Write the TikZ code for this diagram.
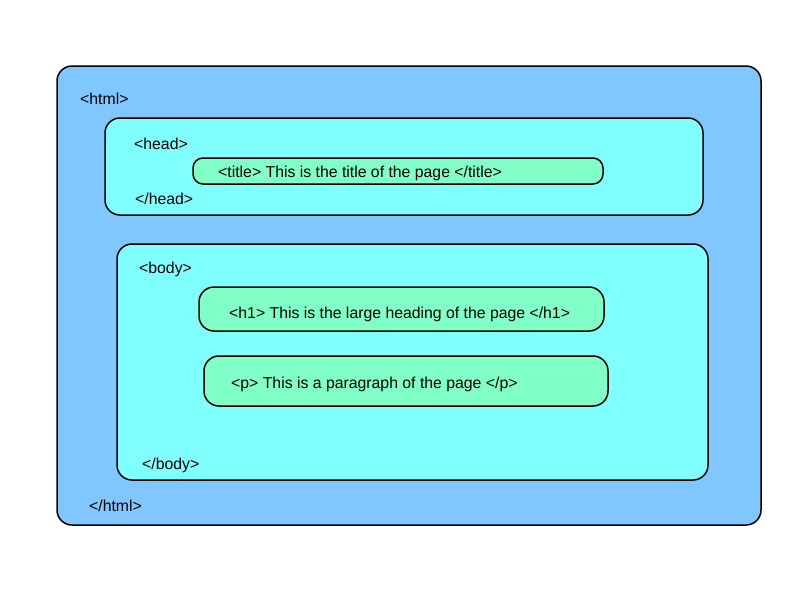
\documentclass[tikz,border=0pt]{standalone}
\usepackage{fontspec}
\setmainfont{Liberation Sans}
\definecolor{htmlblue}{RGB}{128,198,255}
\definecolor{headcyan}{RGB}{128,255,255}
\definecolor{leafgreen}{RGB}{128,255,198}
\begin{document}
\begin{tikzpicture}[x=1pt,y=-1pt,
  box/.style={draw=black,line width=1.5pt,rounded corners=15pt,inner sep=0pt},
  smallbox/.style={box,rounded corners=10pt},
  tag/.style={anchor=west,inner sep=0pt,font=\fontsize{15.8}{18}\selectfont}]
\useasboundingbox (0,0) rectangle (800,600);
\node[box,fill=htmlblue,minimum width=704pt,minimum height=459pt] (html) at (409,295.5) {};
\node[box,fill=headcyan,minimum width=598pt,minimum height=97pt] (head) at (404,166.5) {};
\node[smallbox,fill=leafgreen,minimum width=410pt,minimum height=26pt] (title) at (398,171) {};
\node[box,fill=headcyan,minimum width=591pt,minimum height=236pt] (body) at (412.5,362) {};
\node[box,fill=leafgreen,minimum width=405pt,minimum height=44pt] (h1) at (401.5,309) {};
\node[box,fill=leafgreen,minimum width=404pt,minimum height=50pt] (p) at (406,381) {};
\node[tag] (thtml) at (80,99) {<html>};
\node[tag] (thead) at (134,144) {<head>};
\node[tag] (ttitle) at (218,173) {<title> This is the title of the page </title>};
\node[tag] (tehead) at (135,199) {</head>};
\node[tag] (tbody) at (139,269) {<body>};
\node[tag] (th1) at (229,314) {<h1> This is the large heading of the page </h1>};
\node[tag] (tp) at (231,384) {<p> This is a paragraph of the page </p>};
\node[tag] (tebody) at (142,465) {</body>};
\node[tag] (tehtml) at (89,506) {</html>};
\end{tikzpicture}
\end{document}
